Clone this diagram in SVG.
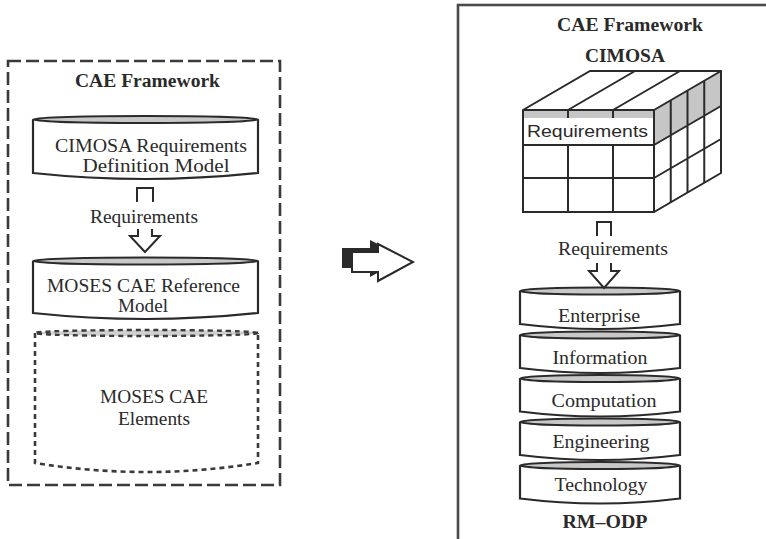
<svg xmlns="http://www.w3.org/2000/svg" width="766" height="539" viewBox="0 0 766 539">
<style>
.t{font-family:"Liberation Serif","Times New Roman",serif;font-size:18px;fill:#2a2a2a;text-anchor:middle}
.b{font-weight:bold}
.s{font-family:"Liberation Sans",Arial,sans-serif;font-size:17px;fill:#2a2a2a}
.ln{fill:none;stroke:#2a2a2a;stroke-width:2}
.cyl{fill:#fff;stroke:#2a2a2a;stroke-width:2.2}
.cap{fill:#c8c8c8;stroke:#2a2a2a;stroke-width:2}
.sh{fill:#c6c6c6;stroke:none}
</style>
<rect width="766" height="539" fill="#fff"/>

<g id="left-framework">
<rect x="8" y="61" width="272" height="424" fill="none" stroke="#3a3a3a" stroke-width="2.6" stroke-dasharray="13 5"/>
<text class="t b" x="147.5" y="87" textLength="145" lengthAdjust="spacingAndGlyphs">CAE Framework</text>
</g>

<g id="cimosa-rdm">
<path class="cyl" d="M33,119.5 V173 Q145.5,185 258,173 V119.5"/>
<ellipse class="cap" cx="145.5" cy="119.5" rx="112.5" ry="3.5"/>
<text class="t" x="151" y="152" textLength="192" lengthAdjust="spacingAndGlyphs">CIMOSA Requirements</text>
<text class="t" x="156" y="172" textLength="147" lengthAdjust="spacingAndGlyphs">Definition Model</text>
</g>

<g id="moses-ref">
<path class="cyl" d="M33,261 V313 Q145.5,325 258,313 V261"/>
<ellipse class="cap" cx="145.5" cy="261" rx="112.5" ry="3.5"/>
<text class="t" x="143.5" y="292" textLength="193" lengthAdjust="spacingAndGlyphs">MOSES CAE Reference</text>
<text class="t" x="143" y="312" textLength="50" lengthAdjust="spacingAndGlyphs">Model</text>
</g>

<g id="moses-elements">
<path d="M35,333 V463 Q146.5,481 258,463 V333" fill="none" stroke="#3a3a3a" stroke-width="2.6" stroke-dasharray="5 4"/>
<ellipse cx="146.5" cy="333" rx="111.5" ry="3" fill="#d0d0d0" stroke="#3a3a3a" stroke-width="2.4" stroke-dasharray="5 4"/>
<text class="t" x="154" y="403" textLength="108" lengthAdjust="spacingAndGlyphs">MOSES CAE</text>
<text class="t" x="154" y="425" textLength="72" lengthAdjust="spacingAndGlyphs">Elements</text>
</g>

<g id="right-framework">
<rect x="458" y="5" width="330" height="560" fill="none" stroke="#4a4a4a" stroke-width="2.6"/>
<text class="t b" x="630" y="31" textLength="146" lengthAdjust="spacingAndGlyphs">CAE Framework</text>
<text class="t b" x="625" y="62" textLength="80" lengthAdjust="spacingAndGlyphs">CIMOSA</text>
</g>

<g id="cimosa-cube">
<polygon points="523,110 590,71 721,71 654,110" fill="#fff"/>
<polygon points="654,110 721,71 721,173 654,212" fill="#fff"/>
<rect x="523" y="110" width="131" height="102" fill="#fff"/>
<rect class="sh" x="523" y="110" width="131" height="8"/>
<polygon class="sh" points="654,110 721,71 721,106 654,145"/>
<text class="s" x="527" y="137" textLength="121" lengthAdjust="spacingAndGlyphs">Requirements</text>
<polygon class="ln" points="523,110 590,71 721,71 721,173 654,212 523,212"/>
<path class="ln" d="M523,110 H654 V212 M654,110 L721,71 M568,110 L635,71 M613,110 L680,71 M523,145 H654 M523,178 H654 M568,110 V118 M613,110 V118 M568,145 V212 M613,145 V212 M654,145 L721,106 M654,178 L721,139 M670.75,100.25 V202.25 M687.5,90.5 V192.5 M704.25,80.75 V182.75"/>
</g>

<g id="rmodp">
<g id="enterprise">
<path class="cyl" d="M520,291 V324 Q600,334 680,324 V291"/>
<ellipse class="cap" cx="600" cy="291" rx="80" ry="3.5"/>
<text class="t" x="599" y="322" textLength="82" lengthAdjust="spacingAndGlyphs">Enterprise</text>
</g>
<g id="information">
<path class="cyl" d="M520,335 V368 Q600,378 680,368 V335"/>
<ellipse class="cap" cx="600" cy="335" rx="80" ry="3.5"/>
<text class="t" x="600" y="364" textLength="95" lengthAdjust="spacingAndGlyphs">Information</text>
</g>
<g id="computation">
<path class="cyl" d="M520,378.5 V411.5 Q600,421.5 680,411.5 V378.5"/>
<ellipse class="cap" cx="600" cy="378.5" rx="80" ry="3.5"/>
<text class="t" x="604" y="407" textLength="105" lengthAdjust="spacingAndGlyphs">Computation</text>
</g>
<g id="engineering">
<path class="cyl" d="M520,422 V455 Q600,465 680,455 V422"/>
<ellipse class="cap" cx="600" cy="422" rx="80" ry="3.5"/>
<text class="t" x="601" y="448" textLength="97" lengthAdjust="spacingAndGlyphs">Engineering</text>
</g>
<g id="technology">
<path class="cyl" d="M520,465.5 V498.5 Q600,508.5 680,498.5 V465.5"/>
<ellipse class="cap" cx="600" cy="465.5" rx="80" ry="3.5"/>
<text class="t" x="601" y="491" textLength="93" lengthAdjust="spacingAndGlyphs">Technology</text>
</g>
<text class="t b" x="605" y="528" textLength="85" lengthAdjust="spacingAndGlyphs">RM–ODP</text>
</g>

<g id="connectors">
<path class="ln" stroke-width="2.6" d="M137,202 V188 H153 V202"/>
<text class="t" x="144" y="223" textLength="108" lengthAdjust="spacingAndGlyphs">Requirements</text>
<polyline class="ln" points="138,229 138,236 130,236 145,252 160,236 152,236 152,229"/>

<path class="ln" stroke-width="2.6" d="M597,236 V222 H611 V236"/>
<text class="t" x="613" y="255" textLength="110" lengthAdjust="spacingAndGlyphs">Requirements</text>
<polyline class="ln" points="597,263 597,271 589,271 604,288 619,271 611,271 611,263"/>

<g id="transform-arrow">
<polygon points="342,248 370,248 370,240 405,258 370,277 370,268 342,268" fill="#2a2a2a"/>
<polygon points="352,252 378,252 378,244 413,262 378,281 378,272 352,272" fill="#fff" stroke="#2a2a2a" stroke-width="2"/>
</g>
</g>
</svg>
